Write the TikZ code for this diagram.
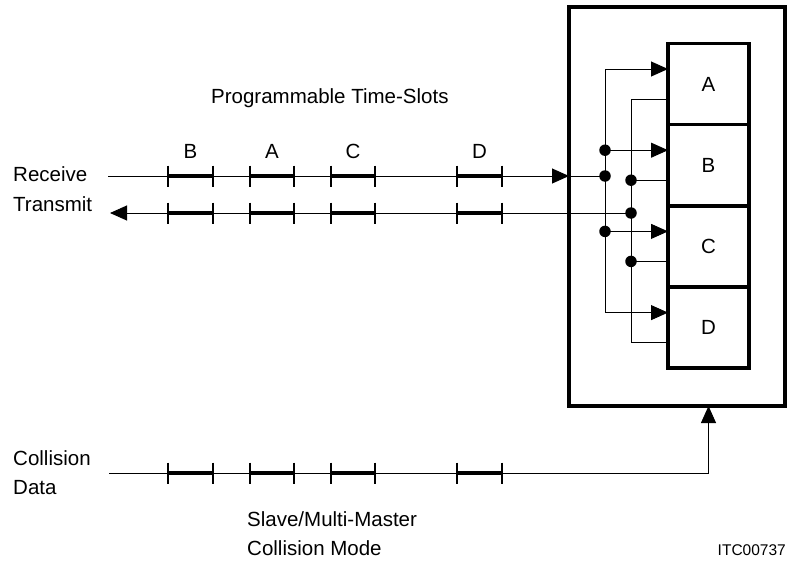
\documentclass[tikz,border=0pt]{standalone}
\usepackage{fontspec}
\setmainfont{Liberation Sans}
\usetikzlibrary{arrows.meta,positioning}

\begin{document}
\begin{tikzpicture}[x=1pt,y=-1pt,
  wire/.style={line width=.9pt},
  tri/.style={-{Triangle[length=17pt,width=15pt]}},
  slotbar/.style={line width=4.5pt},
  tick/.style={line width=1.2pt},
  dot/.style={circle,fill,inner sep=0pt,minimum size=11.5pt},
  cell/.style={draw,line width=3.5pt,outer sep=0pt,minimum width=81pt,minimum height=81.2pt,inner sep=0pt},
  txt/.style={inner sep=0pt,font=\fontsize{20.5}{29}\selectfont}]

\useasboundingbox (0,0) rectangle (789,562);

% labels
\node [txt, anchor=base west] (title) at (211,103) {Programmable Time-Slots};
\node [txt, anchor=base west] (rx) at (13,181) {Receive};
\node [txt, anchor=base west] (tx) at (13,211) {Transmit};
\node [txt, anchor=west, align=left] (colldata) at (13,473) {Collision\\Data};
\node [txt, anchor=north west, align=left] (mode) at (247,511) {Slave/Multi-Master\\Collision Mode};
\node [inner sep=0pt, anchor=base east, font=\fontsize{15.5}{18}\selectfont] (itc) at (786,555) {ITC00737};

% time slots
\foreach \l/\r/\s in {168/213/B, 250/294/A, 331/375/C, 457/502/D} {
  \node [txt, anchor=base] (slot\s) at ({(\l+\r)/2},158) {\s};
  \foreach \y in {176,213,473} {
    \draw [slotbar] (\l,\y) -- (\r,\y);
    \draw [tick] (\l,\y-10.5) -- (\l,\y+10.5);
    \draw [tick] (\r,\y-10.5) -- (\r,\y+10.5);
  }
}

% unit with the four buffers
\node [draw, line width=4pt, outer sep=0pt, minimum width=216pt, minimum height=399pt] (unit) at (677,206.5) {};
\node [cell, txt] (A) at (708.5,84) {A};
\node [cell, txt, below=0pt of A] (B) {B};
\node [cell, txt, below=0pt of B] (C) {C};
\node [cell, txt, below=0pt of C] (D) {D};

\foreach \c in {A,B,C,D} {
  \coordinate (in\c) at ([yshift=15pt]\c.west);
  \coordinate (out\c) at ([yshift=-15pt]\c.west);
}
\coordinate (rbus) at (605,0);
\coordinate (tbus) at (631,0);

\draw [wire] (rbus |- inA) -- (rbus |- inD);
\draw [wire] (tbus |- outA) -- (tbus |- outD);
\foreach \c in {A,B,C,D} {
  \draw [wire, tri] (rbus |- in\c) -- (in\c);
  \draw [wire] (out\c) -- (tbus |- out\c);
}

% receive / transmit / collision lines
\coordinate (rxs) at (108,176);
\coordinate (txs) at (110,213);
\coordinate (cls) at (109,473);

\draw [wire, tri] (rxs) -- (unit.west |- rxs);
\draw [wire] (unit.west |- rxs) -- (rbus |- rxs);
\draw [wire, tri] (tbus |- txs) -- (txs);
\draw [wire, tri] (cls) -| (D.south |- unit.south);

% junctions
\node [dot] (j1) at (rbus |- inB) {};
\node [dot] (j2) at (rbus |- rxs) {};
\node [dot] (j3) at (rbus |- inC) {};
\node [dot] (j4) at (tbus |- outB) {};
\node [dot] (j5) at (tbus |- txs) {};
\node [dot] (j6) at (tbus |- outC) {};

\end{tikzpicture}
\end{document}
